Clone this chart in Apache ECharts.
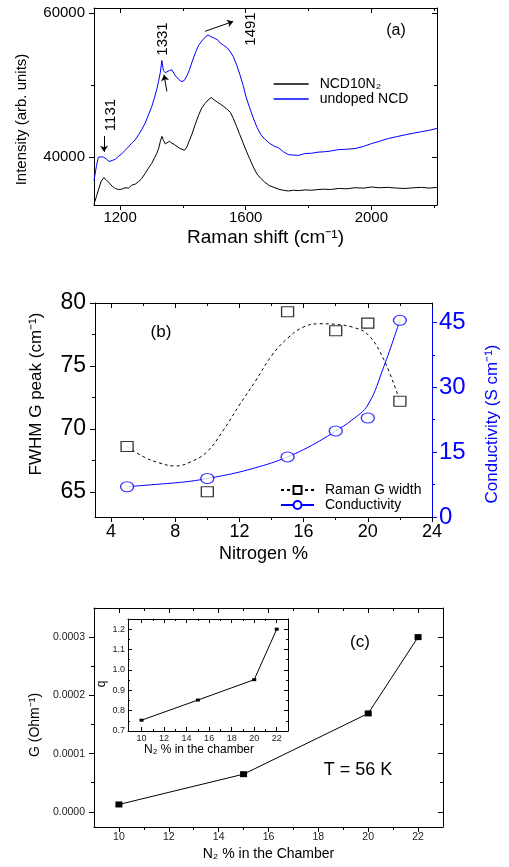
<!DOCTYPE html>
<html>
<head>
<meta charset="utf-8">
<script src="https://cdn.jsdelivr.net/npm/echarts@6/dist/echarts.min.js"></script>
<style>html,body{margin:0;padding:0;background:#fff}#c{width:509px;height:867px}</style>
</head>
<body>
<div id="c"></div>
<script>
// ---------- Panel (a): Raman spectra ----------
const ramanShift = [1117,1125,1131,1140,1148,1156,1165,1175,1185,1195,1205,1216,1227,1237,1248,1258,1269,1280,1290,1301,1310,1317,1323,1328,1333,1338,1344,1350,1357,1365,1373,1381,1389,1397,1405,1413,1421,1430,1440,1450,1460,1470,1480,1490,1500,1510,1520,1530,1541,1551,1561,1571,1581,1592,1602,1612,1624,1636,1648,1660,1675,1690,1705,1720,1736,1752,1768,1789,1810,1830,1850,1870,1895,1920,1948,1975,2001,2025,2054,2080,2107,2135,2160,2185,2209];
const ncd10N2 = [33400,34500,35400,36600,37100,36800,36400,35900,35600,35450,35500,35700,35650,36050,36200,36500,37000,37700,38400,39100,39900,40500,41200,42100,42850,42300,41800,42000,42150,41900,41700,41450,41200,41050,40900,41400,42300,43300,44600,45800,46800,47400,47900,48250,47900,47600,47300,47000,46600,46200,45300,44200,43100,41900,40800,39800,38600,37600,37000,36500,36000,35750,35500,35350,35250,35350,35300,35400,35350,35450,35500,35450,35600,35550,35700,35650,35800,35700,35750,35650,35600,35700,35750,35650,35750];
const undopedNCD = [36700,38800,39950,40000,39950,39700,39350,39500,39650,40100,40400,40900,41400,41900,42350,43000,43800,44700,45800,47000,48300,49400,50600,51700,53400,52000,51700,51800,52000,52100,51500,51000,50700,50450,50650,51300,52100,53300,54500,55500,56100,56600,56950,56700,56500,56300,55800,55500,55150,54600,53900,52800,51500,49900,48200,46900,45400,44100,43100,42500,41900,41500,41250,40700,40300,40250,40200,40450,40500,40650,40700,40800,41000,41050,41150,41450,41850,42150,42550,42800,43050,43300,43500,43700,43950];
const aXLabels = [1200,1600,2000];
const aYLabels = [40000,60000];

// ---------- Panel (b) ----------
const nitrogenPct = [5,10,15,18,20,22];
const ramanGWidth = [68.6,65.0,79.3,77.8,78.4,72.2];
const conductivity = [7.0,8.9,13.9,19.9,22.9,45.5];
const fitX = [5,6,7,8,9,10,11,12,13,14,15,16,17,18,19,20,21,22];
const ramanGFit = [68.6,67.8,67.3,67.05,67.4,68.2,69.9,71.9,73.8,75.8,77.2,78.1,78.35,78.3,78.1,77.5,75.5,72.2];
const conductivityFit = [7.0,7.3,7.6,7.9,8.3,8.9,9.6,10.4,11.4,12.5,13.9,15.6,17.6,19.9,22.4,25.9,34.8,45.5];
const bXLabels = [4,8,12,16,20,24];
const bYLabels = [65,70,75,80];
const bY2Labels = [0,15,30,45];

// ---------- Panel (c) ----------
const chamberN2 = [10,15,20,22];
const conductanceG = [0.0000127,0.0000647,0.000169,0.0003];
const qValues = [0.753,0.852,0.952,1.2];
const cXLabels = [10,12,14,16,18,20,22];
const cYLabels = [0,0.0001,0.0002,0.0003];
const insetYLabels = [0.7,0.8,0.9,1.0,1.1,1.2];

const FONT = '"Liberation Sans", Arial, sans-serif';
const zip = (xs, ys) => xs.map((x, i) => [x, ys[i]]);
const seq = (a, b, s) => { const r = []; for (let v = a; v <= b + 1e-12; v += s) r.push(+v.toFixed(8)); return r; };

const xAxes = [], yAxes = [];
function addAxis(list, c) {
  const col = c.color || '#000';
  list.push({
    type: 'value', gridIndex: c.grid, position: c.pos, min: c.min, max: c.max,
    splitLine: { show: false },
    axisLine: { show: c.line !== false, onZero: false, lineStyle: { color: col, width: 1 } },
    axisTick: { show: !!c.ticks, inside: !!c.inside, length: c.len || 5, customValues: c.ticks || [], lineStyle: { color: col, width: 1 } },
    axisLabel: { show: !!c.labels, customValues: c.labels || [], margin: c.margin || 6, color: c.lcolor || col, fontSize: c.fs || 12, fontFamily: FONT, formatter: c.fmt || (v => String(v)) },
    name: c.name || '', nameLocation: 'middle', nameGap: c.nameGap || 0, nameRotate: c.nameRotate,
    nameTextStyle: { color: col, fontSize: c.nfs || 14, fontFamily: FONT, padding: c.npad || 0 },
    silent: true, axisPointer: { show: false }, z: c.z || 0
  });
  return list.length - 1;
}

// Panel (a) axes
const aX = addAxis(xAxes, { grid: 0, pos: 'bottom', min: 1117, max: 2209, ticks: aXLabels, labels: aXLabels, fs: 15, margin: 5,
  name: 'Raman shift (cm⁻¹)', nameGap: 23, nfs: 19 });
addAxis(xAxes, { grid: 0, pos: 'bottom', min: 1117, max: 2209, line: false, ticks: [1400,1800,2200], len: 3 });
addAxis(xAxes, { grid: 0, pos: 'top', min: 1117, max: 2209, ticks: aXLabels, inside: true });
addAxis(xAxes, { grid: 0, pos: 'top', min: 1117, max: 2209, line: false, ticks: [1400,1800,2200], inside: true, len: 3 });
const aY = addAxis(yAxes, { grid: 0, pos: 'left', min: 33300, max: 60700, ticks: aYLabels, labels: aYLabels, fs: 15, margin: 9,
  name: 'Intensity (arb. units)', nameGap: 65, nfs: 15, npad: [0, 26, 0, 0] });
addAxis(yAxes, { grid: 0, pos: 'left', min: 33300, max: 60700, line: false, ticks: [50000], len: 3 });
addAxis(yAxes, { grid: 0, pos: 'right', min: 33300, max: 60700, ticks: aYLabels, inside: true });
addAxis(yAxes, { grid: 0, pos: 'right', min: 33300, max: 60700, line: false, ticks: [50000], inside: true, len: 3 });

// Panel (b) axes
const bX = addAxis(xAxes, { grid: 1, pos: 'bottom', min: 3, max: 24, ticks: bXLabels, labels: bXLabels, fs: 18, margin: 6,
  name: 'Nitrogen %', nameGap: 28, nfs: 18 });
addAxis(xAxes, { grid: 1, pos: 'bottom', min: 3, max: 24, line: false, ticks: [6,10,14,18,22], len: 3 });
addAxis(xAxes, { grid: 1, pos: 'top', min: 3, max: 24, ticks: bXLabels, inside: true });
addAxis(xAxes, { grid: 1, pos: 'top', min: 3, max: 24, line: false, ticks: [6,10,14,18,22], inside: true, len: 3 });
const bY = addAxis(yAxes, { grid: 1, pos: 'left', min: 63, max: 80, ticks: bYLabels, labels: bYLabels, fs: 23, margin: 9,
  name: 'FWHM G peak (cm⁻¹)', nameGap: 50, nfs: 17, npad: [0, 0, 0, 32] });
addAxis(yAxes, { grid: 1, pos: 'left', min: 63, max: 80, line: false, ticks: [67.5,72.5,77.5], len: 3 });
const bY2 = addAxis(yAxes, { grid: 1, pos: 'right', min: 0, max: 49.5, color: '#0000ff', ticks: bY2Labels, labels: bY2Labels, fs: 24, margin: 7,
  name: 'Conductivity (S cm⁻¹)', nameGap: 52, nfs: 17, nameRotate: 90, npad: [0, 28, 0, 0] });
addAxis(yAxes, { grid: 1, pos: 'right', min: 0, max: 49.5, color: '#0000ff', line: false, ticks: [7.5,22.5,37.5], len: 3 });

// Panel (c) axes
const cX = addAxis(xAxes, { grid: 2, pos: 'bottom', min: 9, max: 23, ticks: cXLabels, labels: cXLabels, fs: 10.5, margin: 5, lcolor: '#222',
  name: 'N₂ % in the Chamber', nameGap: 20, nfs: 14 });
addAxis(xAxes, { grid: 2, pos: 'bottom', min: 9, max: 23, line: false, ticks: seq(11, 21, 2), len: 3 });
addAxis(xAxes, { grid: 2, pos: 'top', min: 9, max: 23, ticks: cXLabels, inside: true });
addAxis(xAxes, { grid: 2, pos: 'top', min: 9, max: 23, line: false, ticks: seq(11, 21, 2), inside: true, len: 3 });
const cY = addAxis(yAxes, { grid: 2, pos: 'left', min: -0.000026, max: 0.00035, ticks: cYLabels, labels: cYLabels, fs: 10.5, margin: 9, lcolor: '#222',
  fmt: v => v.toFixed(4), name: 'G (Ohm⁻¹)', nameGap: 46, nfs: 14, npad: [0, 15, 0, 0] });
addAxis(yAxes, { grid: 2, pos: 'left', min: -0.000026, max: 0.00035, line: false, ticks: [0.00005,0.00015,0.00025], len: 3 });
addAxis(yAxes, { grid: 2, pos: 'right', min: -0.000026, max: 0.00035, ticks: cYLabels, inside: true });
addAxis(yAxes, { grid: 2, pos: 'right', min: -0.000026, max: 0.00035, line: false, ticks: [0.00005,0.00015,0.00025], inside: true, len: 3 });

// Inset axes
const iX = addAxis(xAxes, { grid: 3, pos: 'bottom', min: 8.8, max: 23, ticks: cXLabels, labels: cXLabels, inside: true, len: 4, fs: 9, margin: 3, lcolor: '#222',
  name: 'N₂ % in the chamber', nameGap: 13, nfs: 12, npad: [0, 18, 0, 0], z: 10 });
addAxis(xAxes, { grid: 3, pos: 'bottom', min: 8.8, max: 23, line: false, ticks: seq(11, 21, 2), inside: true, len: 2, z: 10 });
addAxis(xAxes, { grid: 3, pos: 'top', min: 8.8, max: 23, ticks: cXLabels, inside: true, len: 4, z: 10 });
addAxis(xAxes, { grid: 3, pos: 'top', min: 8.8, max: 23, line: false, ticks: seq(11, 21, 2), inside: true, len: 2, z: 10 });
const iY = addAxis(yAxes, { grid: 3, pos: 'left', min: 0.7, max: 1.25, ticks: insetYLabels, labels: insetYLabels, inside: true, len: 4, fs: 9, margin: 3, lcolor: '#222',
  fmt: v => v.toFixed(1), name: 'q', nameGap: 20, nfs: 12, npad: [0, 18, 0, 0], z: 10 });
addAxis(yAxes, { grid: 3, pos: 'left', min: 0.7, max: 1.25, line: false, ticks: [0.75,0.85,0.95,1.05,1.15], inside: true, len: 2, z: 10 });
addAxis(yAxes, { grid: 3, pos: 'right', min: 0.7, max: 1.25, ticks: insetYLabels, inside: true, len: 4, z: 10 });
addAxis(yAxes, { grid: 3, pos: 'right', min: 0.7, max: 1.25, line: false, ticks: [0.75,0.85,0.95,1.05,1.15], inside: true, len: 2, z: 10 });

const arrowLine = { color: '#000', width: 1, type: 'solid' };
const legendText = { fontSize: 14, lineHeight: 14, color: '#000', fontFamily: FONT, padding: [0, 0, 0, 6] };
const chart = echarts.init(document.getElementById('c'), null, { renderer: 'canvas' });
chart.setOption({
  animation: false,
  backgroundColor: '#fff',
  textStyle: { fontFamily: FONT },
  grid: [
    { left: 94, top: 8, width: 343, height: 197 },
    { left: 95, top: 303, width: 341, height: 214 },
    { left: 94, top: 608, width: 349, height: 219 },
    { left: 128, top: 619, width: 160, height: 112, show: true, backgroundColor: '#fff', borderWidth: 0, z: 1 }
  ],
  xAxis: xAxes,
  yAxis: yAxes,
  legend: [
    { data: ['NCD10N₂', 'undoped NCD'], orient: 'vertical', left: 273, top: 77, itemWidth: 35, itemHeight: 14, itemGap: 1, padding: 0,
      itemStyle: { opacity: 0 }, lineStyle: { width: 1.3 }, textStyle: legendText, selectedMode: false },
    { data: ['Raman G width', 'Conductivity'], orient: 'vertical', left: 280, top: 483, itemWidth: 33, itemHeight: 10, itemGap: 1, padding: 0,
      textStyle: legendText, selectedMode: false }
  ],
  series: [
    { name: 'NCD10N₂', type: 'line', xAxisIndex: aX, yAxisIndex: aY, data: zip(ramanShift, ncd10N2), symbol: 'none',
      lineStyle: { color: '#000', width: 1 }, itemStyle: { color: '#000' }, silent: true,
      markLine: { silent: true, symbol: ['none', 'arrow'], symbolSize: 6, label: { show: false }, lineStyle: arrowLine,
        data: [
          [{ coord: [1149, 42900] }, { coord: [1149, 40700] }],
          [{ coord: [1349, 49100] }, { coord: [1340, 51400] }],
          [{ coord: [1470, 57450], lineStyle: { curveness: 0.4 } }, { coord: [1560, 58830] }]
        ] } },
    { name: 'undoped NCD', type: 'line', xAxisIndex: aX, yAxisIndex: aY, data: zip(ramanShift, undopedNCD), symbol: 'none',
      lineStyle: { color: '#0000ff', width: 1 }, itemStyle: { color: '#0000ff' }, silent: true },
    // legend entries for panel (b)
    { name: 'Raman G width', type: 'line', xAxisIndex: bX, yAxisIndex: bY, data: [], symbol: 'rect',
      lineStyle: { color: '#000', width: 1, type: [3, 3] }, itemStyle: { color: '#fff', borderColor: '#000', borderWidth: 1 } },
    { name: 'Conductivity', type: 'line', xAxisIndex: bX, yAxisIndex: bY2, data: [], symbol: 'circle',
      lineStyle: { color: '#0000ff', width: 1 }, itemStyle: { color: '#fff', borderColor: '#0000ff', borderWidth: 1 } },
    { name: 'ramanFit', type: 'line', xAxisIndex: bX, yAxisIndex: bY, data: zip(fitX, ramanGFit), symbol: 'none', smooth: 0.4,
      lineStyle: { color: '#000', width: 1, type: [3, 3] }, silent: true, z: 2 },
    { name: 'condFit', type: 'line', xAxisIndex: bX, yAxisIndex: bY2, data: zip(fitX, conductivityFit), symbol: 'none', smooth: 0.4,
      lineStyle: { color: '#0000ff', width: 1 }, silent: true, z: 2 },
    { name: 'ramanPts', type: 'scatter', xAxisIndex: bX, yAxisIndex: bY, data: zip(nitrogenPct, ramanGWidth), symbol: 'rect', symbolSize: [12, 10],
      itemStyle: { color: '#fff', borderColor: '#000', borderWidth: 1.2 }, silent: true, z: 3 },
    { name: 'condPts', type: 'scatter', xAxisIndex: bX, yAxisIndex: bY2, data: zip(nitrogenPct, conductivity), symbol: 'circle', symbolSize: [13, 10],
      itemStyle: { color: '#fff', borderColor: '#0000ff', borderWidth: 1.2 }, silent: true, z: 3 },
    { name: 'G', type: 'line', xAxisIndex: cX, yAxisIndex: cY, data: zip(chamberN2, conductanceG), symbol: 'rect', symbolSize: [7, 6],
      lineStyle: { color: '#000', width: 1 }, itemStyle: { color: '#000' }, silent: true },
    { name: 'q', type: 'line', xAxisIndex: iX, yAxisIndex: iY, data: zip(chamberN2, qValues), symbol: 'rect', symbolSize: [4, 3],
      lineStyle: { color: '#000', width: 1 }, itemStyle: { color: '#000' }, silent: true, z: 6 }
  ],
  graphic: [
    { type: 'text', x: 396, y: 31, style: { text: '(a)', font: '16px ' + FONT, fill: '#000', align: 'center', verticalAlign: 'middle' } },
    { type: 'text', x: 111, y: 115, rotation: Math.PI / 2, style: { text: '1131', font: '15px ' + FONT, fill: '#000', align: 'center', verticalAlign: 'middle' } },
    { type: 'text', x: 163, y: 39, rotation: Math.PI / 2, style: { text: '1331', font: '15px ' + FONT, fill: '#000', align: 'center', verticalAlign: 'middle' } },
    { type: 'text', x: 251, y: 29, rotation: Math.PI / 2, style: { text: '1491', font: '15px ' + FONT, fill: '#000', align: 'center', verticalAlign: 'middle' } },
    { type: 'text', x: 161, y: 332, style: { text: '(b)', font: '17px ' + FONT, fill: '#000', align: 'center', verticalAlign: 'middle' } },
    { type: 'text', x: 360, y: 642, style: { text: '(c)', font: '17px ' + FONT, fill: '#000', align: 'center', verticalAlign: 'middle' } },
    { type: 'text', x: 358, y: 770, style: { text: 'T = 56 K', font: '18px ' + FONT, fill: '#000', align: 'center', verticalAlign: 'middle' } }
  ]
});
</script>
</body>
</html>
